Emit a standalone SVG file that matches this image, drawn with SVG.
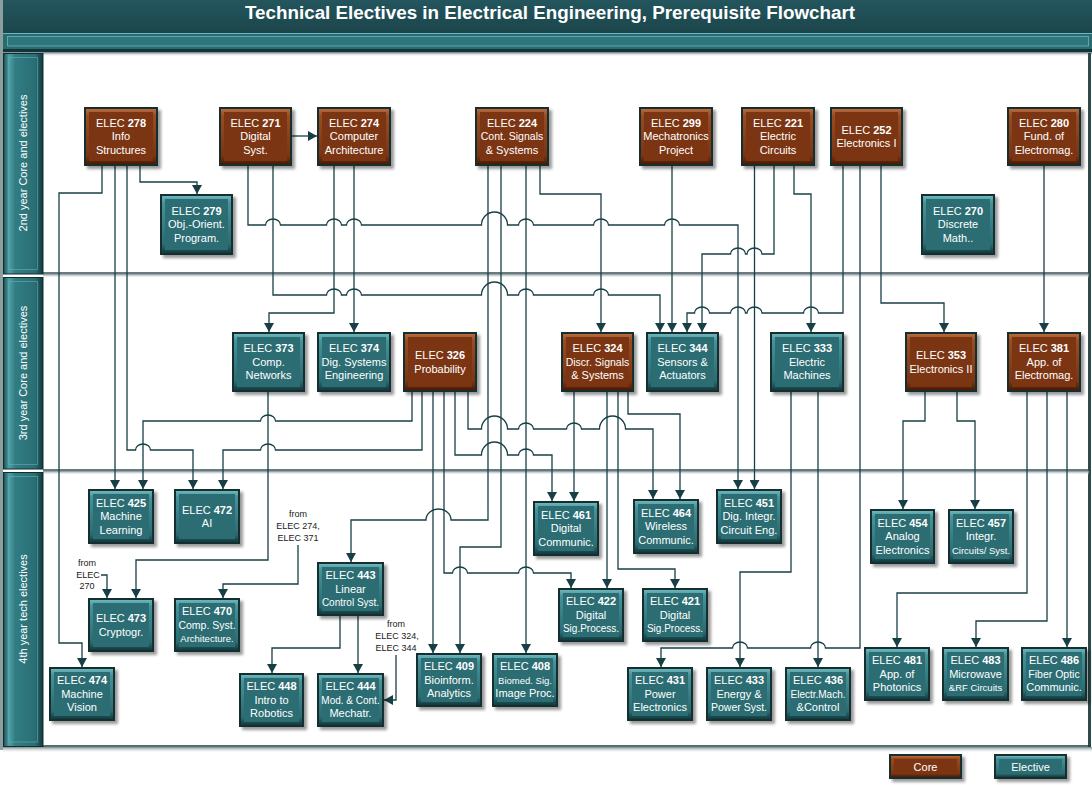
<svg xmlns="http://www.w3.org/2000/svg" width="1092" height="785" viewBox="0 0 1092 785">
<defs>
<linearGradient id="gTitle" x1="0" y1="0" x2="0" y2="1"><stop offset="0" stop-color="#24565d"/><stop offset="1" stop-color="#1b454b"/></linearGradient>
<linearGradient id="gPanel" x1="0" y1="0" x2="1" y2="0"><stop offset="0" stop-color="#1a4a50"/><stop offset="0.14" stop-color="#4fa1a7"/><stop offset="0.3" stop-color="#317c83"/><stop offset="0.8" stop-color="#2a6e74"/><stop offset="1" stop-color="#123a3e"/></linearGradient>
<linearGradient id="gSep" x1="0" y1="0" x2="0" y2="1"><stop offset="0" stop-color="#7a8b8c"/><stop offset="1" stop-color="#ffffff" stop-opacity="0"/></linearGradient>
<linearGradient id="gCoreB" x1="0" y1="0" x2="0" y2="1"><stop offset="0" stop-color="#b86a3c"/><stop offset="0.12" stop-color="#9a4c20"/><stop offset="0.85" stop-color="#7a3512"/><stop offset="1" stop-color="#4a1b04"/></linearGradient>
<linearGradient id="gElB" x1="0" y1="0" x2="0" y2="1"><stop offset="0" stop-color="#6cb6bb"/><stop offset="0.12" stop-color="#45939a"/><stop offset="0.85" stop-color="#2a6b71"/><stop offset="1" stop-color="#123a3e"/></linearGradient>
<filter id="blur" x="-20%" y="-20%" width="140%" height="140%"><feGaussianBlur stdDeviation="1.6"/></filter>
<marker id="ar" viewBox="0 0 9 10" refX="9" refY="5" markerWidth="9" markerHeight="10" markerUnits="userSpaceOnUse" orient="auto"><path d="M0,0 L9,5 L0,10 z" fill="#173f45"/></marker>
</defs>
<style>
.o{fill:#152f31}
.sh{fill:#000;opacity:.4;filter:url(#blur)}
.core .b{fill:url(#gCoreB)}
.core .f{fill:#7b3513}
.el .b{fill:url(#gElB)}
.el .f{fill:#2b6d73}
.t{font-family:'Liberation Sans',Arial,sans-serif;font-size:11px;fill:#fff;text-anchor:middle}
.n{font-weight:bold}
.s10{font-size:10px}
.s95{font-size:9.5px}
.s105{font-size:10.5px}
.note{font-family:'Liberation Sans',Arial,sans-serif;font-size:9px;fill:#1a1a1a;text-anchor:middle}
.c{fill:none;stroke:#173f45;stroke-width:1.3;marker-end:url(#ar)}
.pt{font-family:'Liberation Sans',Arial,sans-serif;font-size:11px;fill:#fff;text-anchor:middle}
.pan{fill:url(#gPanel);stroke:#102d30;stroke-width:1}
.pin{fill:none;stroke:#6ab3b8;stroke-opacity:.55;stroke-width:1}
</style>

<g id="frame">
<rect x="0" y="0" width="1092" height="785" fill="#fff"/>
<rect x="0" y="0" width="1092" height="33" fill="url(#gTitle)"/>
<rect x="0" y="0" width="3" height="750" fill="#8d9e9f"/>
<rect x="3" y="33" width="1089" height="19" fill="#2a6b71"/>
<line x1="3" y1="33.5" x2="1092" y2="33.5" stroke="#68b5ba"/>
<rect x="7.5" y="36.5" width="1081" height="9.5" fill="#2f767c" stroke="#5aa8ae"/>
<rect x="3" y="49" width="1089" height="3.5" fill="#133438"/>
<rect x="43" y="52.5" width="1049" height="4" fill="url(#gSep)"/>
<rect x="1088" y="53" width="3" height="694" fill="#2d4b4f"/>
<line x1="43" y1="746" x2="1091" y2="746" stroke="#1d3c40" stroke-width="1.5"/>
<rect x="3" y="747" width="1089" height="6" fill="url(#gSep)"/>
<line x1="43" y1="273" x2="1089" y2="273" stroke="#344f53" stroke-width="1.5"/>
<rect x="43" y="274" width="1046" height="4" fill="url(#gSep)"/>
<line x1="43" y1="470" x2="1089" y2="470" stroke="#344f53" stroke-width="1.5"/>
<rect x="43" y="471" width="1046" height="4" fill="url(#gSep)"/>
<rect class="pan" x="3.5" y="53.5" width="39.5" height="220.5"/>
<rect class="pin" x="8.5" y="57.5" width="29" height="212"/>
<rect class="pan" x="3.5" y="277.5" width="39.5" height="191.5"/>
<rect class="pin" x="8.5" y="281.5" width="29" height="183"/>
<rect class="pan" x="3.5" y="472.5" width="39.5" height="274"/>
<rect class="pin" x="8.5" y="476.5" width="29" height="265.5"/>
<text class="pt" transform="translate(27,163) rotate(-90)">2nd year Core and electives</text>
<text class="pt" transform="translate(27,373) rotate(-90)">3rd year Core and electives</text>
<text class="pt" transform="translate(27,609) rotate(-90)">4th year tech electives</text>
<text x="550" y="18.5" font-family="'Liberation Sans',Arial,sans-serif" font-weight="bold" font-size="18" fill="#fff" text-anchor="middle" textLength="610" lengthAdjust="spacingAndGlyphs">Technical Electives in Electrical Engineering, Prerequisite Flowchart</text>
</g>

<g id="notes">
<text class="note" x="298" y="517">from</text>
<text class="note" x="298" y="529">ELEC 274,</text>
<text class="note" x="298" y="541">ELEC 371</text>
<text class="note" x="87" y="566">from</text>
<text class="note" x="88" y="578">ELEC</text>
<text class="note" x="87" y="589">270</text>
<text class="note" x="396" y="627">from</text>
<text class="note" x="397" y="639">ELEC 324,</text>
<text class="note" x="396" y="651">ELEC 344</text>
</g>

<g id="connectors">
<path class="c" d="M102,166 V193 H59 V643 H82 V667"/>
<path class="c" d="M115,166 V489"/>
<path class="c" d="M127,166 V450 H135.5 A7.5,6 0 0 1 150.5,450 H193 V489"/>
<path class="c" d="M140,166 V182 H197 V194"/>
<path class="c" d="M292,136 H317"/>
<path class="c" d="M248,166 V225 H265.5 A7.5,6 0 0 1 280.5,225 H326.5 A7.5,6 0 0 1 341.5,225 H346.5 A7.5,6 0 0 1 361.5,225 H481.5 A13,13 0 0 1 507.5,225 H518.5 A7.5,6 0 0 1 533.5,225 H593.5 A7.5,6 0 0 1 608.5,225 H664.5 A7.5,6 0 0 1 679.5,225 H738 V489"/>
<path class="c" d="M273,166 V295 H326.5 A7.5,6 0 0 1 341.5,295 H346.5 A7.5,6 0 0 1 361.5,295 H481.5 A13,13 0 0 1 507.5,295 H518.5 A7.5,6 0 0 1 533.5,295 H593.5 A7.5,6 0 0 1 608.5,295 H660 V332"/>
<path class="c" d="M334,166 V313 H269 V332"/>
<path class="c" d="M354,166 V332"/>
<path class="c" d="M488,166 V520 H451 A12.5,11 0 0 0 426,520 H351 V562"/>
<path class="c" d="M501,166 V547 H460 V653"/>
<path class="c" d="M526,166 V653"/>
<path class="c" d="M540,166 V194 H601 V332"/>
<path class="c" d="M672,166 V332"/>
<path class="c" d="M754.5,166 V489"/>
<path class="c" d="M774,166 V254 H762 A7.5,6 0 0 0 747,254 H745.5 A7.5,6 0 0 0 730.5,254 H702 V332"/>
<path class="c" d="M794,166 V194 H811 V332"/>
<path class="c" d="M843,166 V313 H818.5 A7.5,6 0 0 0 803.5,313 H762 A7.5,6 0 0 0 747,313 H745.5 A7.5,6 0 0 0 730.5,313 H709.5 A7.5,6 0 0 0 694.5,313 H687 V332"/>
<path class="c" d="M860,166 V648 H825.5 A7.5,6 0 0 0 810.5,648 H747.5 A7.5,6 0 0 0 732.5,648 H661 V667"/>
<path class="c" d="M881,166 V303 H944 V332"/>
<path class="c" d="M1044,166 V332"/>
<path class="c" d="M268,392 V560 H136 V598"/>
<path class="c" d="M412,392 V421 H275.5 A7.5,6 0 0 0 260.5,421 H143 V489"/>
<path class="c" d="M422,392 V450 H275.5 A7.5,6 0 0 0 260.5,450 H223 V489"/>
<path class="c" d="M433,392 V653"/>
<path class="c" d="M444,392 V573 H452.5 A7.5,6 0 0 1 467.5,573 H518.5 A7.5,6 0 0 1 533.5,573 H571 V588"/>
<path class="c" d="M455,392 V455 H481.5 A13,13 0 0 1 507.5,455 H518.5 A7.5,6 0 0 1 533.5,455 H552 V501"/>
<path class="c" d="M468,392 V429 H481.5 A13,13 0 0 1 507.5,429 H518.5 A7.5,6 0 0 1 533.5,429 H566.5 A7.5,6 0 0 1 581.5,429 H599.5 A13,13 0 0 1 625.5,429 H653 V499"/>
<path class="c" d="M574,392 V501"/>
<path class="c" d="M607,392 V588"/>
<path class="c" d="M618,392 V569 H675 V588"/>
<path class="c" d="M628,392 V414 H680 V499"/>
<path class="c" d="M791,392 V572 H740 V667"/>
<path class="c" d="M818,392 V667"/>
<path class="c" d="M925,392 V421 H903 V509"/>
<path class="c" d="M957,392 V421 H975 V509"/>
<path class="c" d="M1027,392 V593 H897 V647"/>
<path class="c" d="M1047,392 V621 H976 V647"/>
<path class="c" d="M1067,392 V647"/>
<path class="c" d="M340,616 V648 H272 V673"/>
<path class="c" d="M358,616 V673"/>
<path class="c" d="M298,545 V584 H223 V598"/>
<path class="c" d="M101,575 H107 V598"/>
<path class="c" d="M396,655 V700 H384"/>
</g>

<g id="n278" class="core"><rect class="sh" x="87" y="110" width="74" height="59"/><rect class="o" x="84" y="107" width="74" height="59"/><rect class="b" x="86" y="109" width="70" height="55"/><rect class="f" x="89" y="112" width="64" height="49"/><text class="t" x="121" y="126.75">ELEC <tspan class="n">278</tspan></text><text class="t" x="121" y="140.25">Info</text><text class="t" x="121" y="153.75">Structures</text></g>
<g id="n271" class="core"><rect class="sh" x="222" y="110" width="73" height="59"/><rect class="o" x="219" y="107" width="73" height="59"/><rect class="b" x="221" y="109" width="69" height="55"/><rect class="f" x="224" y="112" width="63" height="49"/><text class="t" x="255.5" y="126.75">ELEC <tspan class="n">271</tspan></text><text class="t" x="255.5" y="140.25">Digital</text><text class="t" x="255.5" y="153.75">Syst.</text></g>
<g id="n274" class="core"><rect class="sh" x="320" y="110" width="74" height="59"/><rect class="o" x="317" y="107" width="74" height="59"/><rect class="b" x="319" y="109" width="70" height="55"/><rect class="f" x="322" y="112" width="64" height="49"/><text class="t" x="354" y="126.75">ELEC <tspan class="n">274</tspan></text><text class="t" x="354" y="140.25">Computer</text><text class="t" x="354" y="153.75">Architecture</text></g>
<g id="n224" class="core"><rect class="sh" x="478" y="110" width="74" height="59"/><rect class="o" x="475" y="107" width="74" height="59"/><rect class="b" x="477" y="109" width="70" height="55"/><rect class="f" x="480" y="112" width="64" height="49"/><text class="t" x="512" y="126.75">ELEC <tspan class="n">224</tspan></text><text class="t s105" x="512" y="140.25">Cont. Signals</text><text class="t" x="512" y="153.75">&amp; Systems</text></g>
<g id="n299" class="core"><rect class="sh" x="642" y="110" width="74" height="59"/><rect class="o" x="639" y="107" width="74" height="59"/><rect class="b" x="641" y="109" width="70" height="55"/><rect class="f" x="644" y="112" width="64" height="49"/><text class="t" x="676" y="126.75">ELEC <tspan class="n">299</tspan></text><text class="t" x="676" y="140.25">Mechatronics</text><text class="t" x="676" y="153.75">Project</text></g>
<g id="n221" class="core"><rect class="sh" x="744" y="110" width="74" height="59"/><rect class="o" x="741" y="107" width="74" height="59"/><rect class="b" x="743" y="109" width="70" height="55"/><rect class="f" x="746" y="112" width="64" height="49"/><text class="t" x="778" y="126.75">ELEC <tspan class="n">221</tspan></text><text class="t" x="778" y="140.25">Electric</text><text class="t" x="778" y="153.75">Circuits</text></g>
<g id="n252" class="core"><rect class="sh" x="833" y="110" width="73" height="59"/><rect class="o" x="830" y="107" width="73" height="59"/><rect class="b" x="832" y="109" width="69" height="55"/><rect class="f" x="835" y="112" width="63" height="49"/><text class="t" x="866.5" y="133.5">ELEC <tspan class="n">252</tspan></text><text class="t" x="866.5" y="147">Electronics I</text></g>
<g id="n280" class="core"><rect class="sh" x="1010" y="110" width="74" height="59"/><rect class="o" x="1007" y="107" width="74" height="59"/><rect class="b" x="1009" y="109" width="70" height="55"/><rect class="f" x="1012" y="112" width="64" height="49"/><text class="t" x="1044" y="126.75">ELEC <tspan class="n">280</tspan></text><text class="t" x="1044" y="140.25">Fund. of</text><text class="t" x="1044" y="153.75">Electromag.</text></g>
<g id="n279" class="el"><rect class="sh" x="163" y="197" width="73" height="61"/><rect class="o" x="160" y="194" width="73" height="61"/><rect class="b" x="162" y="196" width="69" height="57"/><rect class="f" x="165" y="199" width="63" height="51"/><text class="t" x="196.5" y="214.75">ELEC <tspan class="n">279</tspan></text><text class="t" x="196.5" y="228.25">Obj.-Orient.</text><text class="t" x="196.5" y="241.75">Program.</text></g>
<g id="n270" class="el"><rect class="sh" x="924" y="197" width="74" height="61"/><rect class="o" x="921" y="194" width="74" height="61"/><rect class="b" x="923" y="196" width="70" height="57"/><rect class="f" x="926" y="199" width="64" height="51"/><text class="t" x="958" y="214.75">ELEC <tspan class="n">270</tspan></text><text class="t" x="958" y="228.25">Discrete</text><text class="t" x="958" y="241.75">Math..</text></g>

<g id="n373" class="el"><rect class="sh" x="235" y="335" width="73" height="60"/><rect class="o" x="232" y="332" width="73" height="60"/><rect class="b" x="234" y="334" width="69" height="56"/><rect class="f" x="237" y="337" width="63" height="50"/><text class="t" x="268.5" y="352.25">ELEC <tspan class="n">373</tspan></text><text class="t" x="268.5" y="365.75">Comp.</text><text class="t" x="268.5" y="379.25">Networks</text></g>
<g id="n374" class="el"><rect class="sh" x="320" y="335" width="74" height="60"/><rect class="o" x="317" y="332" width="74" height="60"/><rect class="b" x="319" y="334" width="70" height="56"/><rect class="f" x="322" y="337" width="64" height="50"/><text class="t" x="354" y="352.25">ELEC <tspan class="n">374</tspan></text><text class="t" x="354" y="365.75">Dig. Systems</text><text class="t" x="354" y="379.25">Engineering</text></g>
<g id="n326" class="core"><rect class="sh" x="406" y="335" width="74" height="60"/><rect class="o" x="403" y="332" width="74" height="60"/><rect class="b" x="405" y="334" width="70" height="56"/><rect class="f" x="408" y="337" width="64" height="50"/><text class="t" x="440" y="359">ELEC <tspan class="n">326</tspan></text><text class="t" x="440" y="372.5">Probability</text></g>
<g id="n324" class="core"><rect class="sh" x="564" y="335" width="73" height="60"/><rect class="o" x="561" y="332" width="73" height="60"/><rect class="b" x="563" y="334" width="69" height="56"/><rect class="f" x="566" y="337" width="63" height="50"/><text class="t" x="597.5" y="352.25">ELEC <tspan class="n">324</tspan></text><text class="t s105" x="597.5" y="365.75">Discr. Signals</text><text class="t" x="597.5" y="379.25">&amp; Systems</text></g>
<g id="n344" class="el"><rect class="sh" x="649" y="335" width="73" height="60"/><rect class="o" x="646" y="332" width="73" height="60"/><rect class="b" x="648" y="334" width="69" height="56"/><rect class="f" x="651" y="337" width="63" height="50"/><text class="t" x="682.5" y="352.25">ELEC <tspan class="n">344</tspan></text><text class="t" x="682.5" y="365.75">Sensors &amp;</text><text class="t" x="682.5" y="379.25">Actuators</text></g>
<g id="n333" class="el"><rect class="sh" x="773" y="335" width="74" height="60"/><rect class="o" x="770" y="332" width="74" height="60"/><rect class="b" x="772" y="334" width="70" height="56"/><rect class="f" x="775" y="337" width="64" height="50"/><text class="t" x="807" y="352.25">ELEC <tspan class="n">333</tspan></text><text class="t" x="807" y="365.75">Electric</text><text class="t" x="807" y="379.25">Machines</text></g>
<g id="n353" class="core"><rect class="sh" x="908" y="335" width="72" height="60"/><rect class="o" x="905" y="332" width="72" height="60"/><rect class="b" x="907" y="334" width="68" height="56"/><rect class="f" x="910" y="337" width="62" height="50"/><text class="t" x="941" y="359">ELEC <tspan class="n">353</tspan></text><text class="t" x="941" y="372.5">Electronics II</text></g>
<g id="n381" class="core"><rect class="sh" x="1010" y="335" width="74" height="60"/><rect class="o" x="1007" y="332" width="74" height="60"/><rect class="b" x="1009" y="334" width="70" height="56"/><rect class="f" x="1012" y="337" width="64" height="50"/><text class="t" x="1044" y="352.25">ELEC <tspan class="n">381</tspan></text><text class="t" x="1044" y="365.75">App. of</text><text class="t" x="1044" y="379.25">Electromag.</text></g>

<g id="n425" class="el"><rect class="sh" x="91" y="492" width="66" height="55"/><rect class="o" x="88" y="489" width="66" height="55"/><rect class="b" x="90" y="491" width="62" height="51"/><rect class="f" x="93" y="494" width="56" height="45"/><text class="t" x="121" y="506.75">ELEC <tspan class="n">425</tspan></text><text class="t" x="121" y="520.25">Machine</text><text class="t" x="121" y="533.75">Learning</text></g>
<g id="n472" class="el"><rect class="sh" x="177" y="492" width="66" height="55"/><rect class="o" x="174" y="489" width="66" height="55"/><rect class="b" x="176" y="491" width="62" height="51"/><rect class="f" x="179" y="494" width="56" height="45"/><text class="t" x="207" y="513.5">ELEC <tspan class="n">472</tspan></text><text class="t" x="207" y="527">AI</text></g>
<g id="n461" class="el"><rect class="sh" x="536" y="504" width="66" height="55"/><rect class="o" x="533" y="501" width="66" height="55"/><rect class="b" x="535" y="503" width="62" height="51"/><rect class="f" x="538" y="506" width="56" height="45"/><text class="t" x="566" y="518.75">ELEC <tspan class="n">461</tspan></text><text class="t" x="566" y="532.25">Digital</text><text class="t" x="566" y="545.75">Communic.</text></g>
<g id="n464" class="el"><rect class="sh" x="636" y="502" width="66" height="55"/><rect class="o" x="633" y="499" width="66" height="55"/><rect class="b" x="635" y="501" width="62" height="51"/><rect class="f" x="638" y="504" width="56" height="45"/><text class="t" x="666" y="516.75">ELEC <tspan class="n">464</tspan></text><text class="t" x="666" y="530.25">Wireless</text><text class="t" x="666" y="543.75">Communic.</text></g>
<g id="n451" class="el"><rect class="sh" x="719" y="492" width="66" height="55"/><rect class="o" x="716" y="489" width="66" height="55"/><rect class="b" x="718" y="491" width="62" height="51"/><rect class="f" x="721" y="494" width="56" height="45"/><text class="t" x="749" y="506.75">ELEC <tspan class="n">451</tspan></text><text class="t" x="749" y="520.25">Dig. Integr.</text><text class="t" x="749" y="533.75">Circuit Eng.</text></g>
<g id="n454" class="el"><rect class="sh" x="873" y="512" width="65" height="55"/><rect class="o" x="870" y="509" width="65" height="55"/><rect class="b" x="872" y="511" width="61" height="51"/><rect class="f" x="875" y="514" width="55" height="45"/><text class="t" x="902.5" y="526.75">ELEC <tspan class="n">454</tspan></text><text class="t" x="902.5" y="540.25">Analog</text><text class="t" x="902.5" y="553.75">Electronics</text></g>
<g id="n457" class="el"><rect class="sh" x="951" y="512" width="66" height="55"/><rect class="o" x="948" y="509" width="66" height="55"/><rect class="b" x="950" y="511" width="62" height="51"/><rect class="f" x="953" y="514" width="56" height="45"/><text class="t" x="981" y="526.75">ELEC <tspan class="n">457</tspan></text><text class="t" x="981" y="540.25">Integr.</text><text class="t s95" x="981" y="553.75">Circuits/ Syst.</text></g>
<g id="n473" class="el"><rect class="sh" x="91" y="601" width="66" height="54"/><rect class="o" x="88" y="598" width="66" height="54"/><rect class="b" x="90" y="600" width="62" height="50"/><rect class="f" x="93" y="603" width="56" height="44"/><text class="t" x="121" y="622">ELEC <tspan class="n">473</tspan></text><text class="t" x="121" y="635.5">Cryptogr.</text></g>
<g id="n470" class="el"><rect class="sh" x="177" y="601" width="66" height="54"/><rect class="o" x="174" y="598" width="66" height="54"/><rect class="b" x="176" y="600" width="62" height="50"/><rect class="f" x="179" y="603" width="56" height="44"/><text class="t" x="207" y="615.25">ELEC <tspan class="n">470</tspan></text><text class="t s105" x="207" y="628.75">Comp. Syst.</text><text class="t s95" x="207" y="642.25">Architecture.</text></g>
<g id="n443" class="el"><rect class="sh" x="320" y="565" width="67" height="54"/><rect class="o" x="317" y="562" width="67" height="54"/><rect class="b" x="319" y="564" width="63" height="50"/><rect class="f" x="322" y="567" width="57" height="44"/><text class="t" x="350.5" y="579.25">ELEC <tspan class="n">443</tspan></text><text class="t" x="350.5" y="592.75">Linear</text><text class="t s10" x="350.5" y="606.25">Control Syst.</text></g>
<g id="n422" class="el"><rect class="sh" x="561" y="591" width="66" height="54"/><rect class="o" x="558" y="588" width="66" height="54"/><rect class="b" x="560" y="590" width="62" height="50"/><rect class="f" x="563" y="593" width="56" height="44"/><text class="t" x="591" y="605.25">ELEC <tspan class="n">422</tspan></text><text class="t" x="591" y="618.75">Digital</text><text class="t s10" x="591" y="632.25">Sig.Process.</text></g>
<g id="n421" class="el"><rect class="sh" x="645" y="591" width="66" height="54"/><rect class="o" x="642" y="588" width="66" height="54"/><rect class="b" x="644" y="590" width="62" height="50"/><rect class="f" x="647" y="593" width="56" height="44"/><text class="t" x="675" y="605.25">ELEC <tspan class="n">421</tspan></text><text class="t" x="675" y="618.75">Digital</text><text class="t s10" x="675" y="632.25">Sig.Process.</text></g>
<g id="n474" class="el"><rect class="sh" x="52" y="670" width="66" height="54"/><rect class="o" x="49" y="667" width="66" height="54"/><rect class="b" x="51" y="669" width="62" height="50"/><rect class="f" x="54" y="672" width="56" height="44"/><text class="t" x="82" y="684.25">ELEC <tspan class="n">474</tspan></text><text class="t" x="82" y="697.75">Machine</text><text class="t" x="82" y="711.25">Vision</text></g>
<g id="n448" class="el"><rect class="sh" x="242" y="676" width="65" height="54"/><rect class="o" x="239" y="673" width="65" height="54"/><rect class="b" x="241" y="675" width="61" height="50"/><rect class="f" x="244" y="678" width="55" height="44"/><text class="t" x="271.5" y="690.25">ELEC <tspan class="n">448</tspan></text><text class="t" x="271.5" y="703.75">Intro to</text><text class="t" x="271.5" y="717.25">Robotics</text></g>
<g id="n444" class="el"><rect class="sh" x="320" y="676" width="67" height="54"/><rect class="o" x="317" y="673" width="67" height="54"/><rect class="b" x="319" y="675" width="63" height="50"/><rect class="f" x="322" y="678" width="57" height="44"/><text class="t" x="350.5" y="690.25">ELEC <tspan class="n">444</tspan></text><text class="t s10" x="350.5" y="703.75">Mod. &amp; Cont.</text><text class="t" x="350.5" y="717.25">Mechatr.</text></g>
<g id="n409" class="el"><rect class="sh" x="419" y="656" width="66" height="54"/><rect class="o" x="416" y="653" width="66" height="54"/><rect class="b" x="418" y="655" width="62" height="50"/><rect class="f" x="421" y="658" width="56" height="44"/><text class="t" x="449" y="670.25">ELEC <tspan class="n">409</tspan></text><text class="t" x="449" y="683.75">Bioinform.</text><text class="t" x="449" y="697.25">Analytics</text></g>
<g id="n408" class="el"><rect class="sh" x="495" y="656" width="66" height="54"/><rect class="o" x="492" y="653" width="66" height="54"/><rect class="b" x="494" y="655" width="62" height="50"/><rect class="f" x="497" y="658" width="56" height="44"/><text class="t" x="525" y="670.25">ELEC <tspan class="n">408</tspan></text><text class="t s95" x="525" y="683.75">Biomed. Sig.</text><text class="t" x="525" y="697.25">Image Proc.</text></g>
<g id="n431" class="el"><rect class="sh" x="630" y="670" width="66" height="54"/><rect class="o" x="627" y="667" width="66" height="54"/><rect class="b" x="629" y="669" width="62" height="50"/><rect class="f" x="632" y="672" width="56" height="44"/><text class="t" x="660" y="684.25">ELEC <tspan class="n">431</tspan></text><text class="t" x="660" y="697.75">Power</text><text class="t" x="660" y="711.25">Electronics</text></g>
<g id="n433" class="el"><rect class="sh" x="709" y="670" width="66" height="54"/><rect class="o" x="706" y="667" width="66" height="54"/><rect class="b" x="708" y="669" width="62" height="50"/><rect class="f" x="711" y="672" width="56" height="44"/><text class="t" x="739" y="684.25">ELEC <tspan class="n">433</tspan></text><text class="t" x="739" y="697.75">Energy &amp;</text><text class="t s105" x="739" y="711.25">Power Syst.</text></g>
<g id="n436" class="el"><rect class="sh" x="788" y="670" width="66" height="54"/><rect class="o" x="785" y="667" width="66" height="54"/><rect class="b" x="787" y="669" width="62" height="50"/><rect class="f" x="790" y="672" width="56" height="44"/><text class="t" x="818" y="684.25">ELEC <tspan class="n">436</tspan></text><text class="t s10" x="818" y="697.75">Electr.Mach.</text><text class="t" x="818" y="711.25">&amp;Control</text></g>
<g id="n481" class="el"><rect class="sh" x="867" y="650" width="66" height="54"/><rect class="o" x="864" y="647" width="66" height="54"/><rect class="b" x="866" y="649" width="62" height="50"/><rect class="f" x="869" y="652" width="56" height="44"/><text class="t" x="897" y="664.25">ELEC <tspan class="n">481</tspan></text><text class="t" x="897" y="677.75">App. of</text><text class="t" x="897" y="691.25">Photonics</text></g>
<g id="n483" class="el"><rect class="sh" x="945" y="650" width="67" height="54"/><rect class="o" x="942" y="647" width="67" height="54"/><rect class="b" x="944" y="649" width="63" height="50"/><rect class="f" x="947" y="652" width="57" height="44"/><text class="t" x="975.5" y="664.25">ELEC <tspan class="n">483</tspan></text><text class="t" x="975.5" y="677.75">Microwave</text><text class="t s95" x="975.5" y="691.25">&amp;RF Circuits</text></g>
<g id="n486" class="el"><rect class="sh" x="1024" y="650" width="66" height="54"/><rect class="o" x="1021" y="647" width="66" height="54"/><rect class="b" x="1023" y="649" width="62" height="50"/><rect class="f" x="1026" y="652" width="56" height="44"/><text class="t" x="1054" y="664.25">ELEC <tspan class="n">486</tspan></text><text class="t s105" x="1054" y="677.75">Fiber Optic</text><text class="t" x="1054" y="691.25">Communic.</text></g>

<g id="legend-core" class="core"><rect class="sh" x="892" y="757" width="73" height="25"/><rect class="o" x="889" y="754" width="73" height="25"/><rect class="b" x="891" y="756" width="69" height="21"/><rect class="f" x="894" y="759" width="63" height="15"/><text class="t" x="925.5" y="770.5">Core</text></g>
<g id="legend-elective" class="el"><rect class="sh" x="997" y="757" width="73" height="25"/><rect class="o" x="994" y="754" width="73" height="25"/><rect class="b" x="996" y="756" width="69" height="21"/><rect class="f" x="999" y="759" width="63" height="15"/><text class="t" x="1030.5" y="770.5">Elective</text></g>
</svg>
